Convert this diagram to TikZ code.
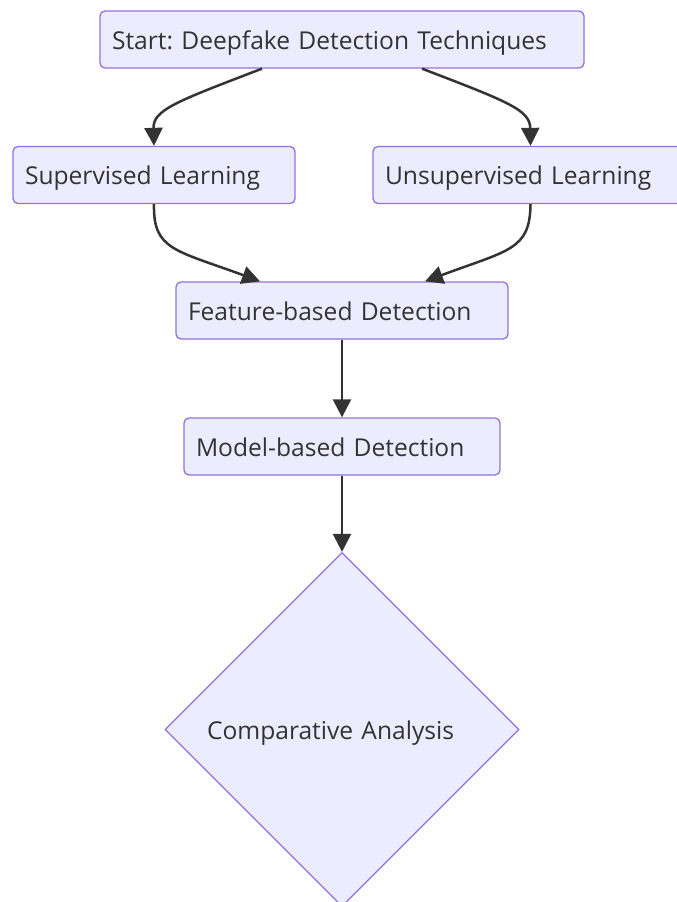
\documentclass[tikz,border=0pt]{standalone}
\usepackage{fontspec}
\setmainfont{Open Sans}
\usetikzlibrary{arrows.meta,shapes.geometric}
\definecolor{boxfill}{HTML}{ECECFF}
\definecolor{boxline}{HTML}{9370DB}
\definecolor{ink}{HTML}{333333}
\frenchspacing
\begin{document}
\begin{tikzpicture}[x=1pt,y=-1pt,
  box/.style={draw=boxline,fill=boxfill,line width=1.3pt,rounded corners=5pt,
    inner xsep=12pt,inner ysep=0pt,minimum height=57pt,align=left,
    text height=25.6pt,text depth=6pt,
    text=ink,font=\fontsize{24.6}{28}\selectfont,anchor=center},
  dia/.style={draw=boxline,fill=boxfill,line width=1.3pt,shape=diamond,
    minimum width=354pt,minimum height=354pt,inner sep=0pt,
    text height=26.6pt,text depth=6pt,
    text width=270pt,align=left,text=ink,font=\fontsize{24.6}{28}\selectfont},
  link/.style={draw=ink,line width=2.5pt,-{Triangle[length=18pt,width=18pt]}}]
\useasboundingbox (0,0) rectangle (677,902);
\node[box,text width=460pt] (start) at (342,39.5) {Start: Deepfake Detection Techniques};
\node[box,text width=258pt] (sup) at (154,175) {Supervised Learning};
\node[box,text width=291pt] (uns) at (530.5,175) {Unsupervised Learning};
\node[box,text width=308pt] (feat) at (342,310.5) {Feature-based Detection};
\node[box,text width=292pt] (model) at (342,446.5) {Model-based Detection};
\node[dia] (comp) at (342,729.5) {Comparative Analysis};
\draw[link] (start.south -| 262,0) .. controls (175,102) and (153,110) .. (sup.north);
\draw[link] (start.south -| 422,0) .. controls (509,102) and (530,110) .. (uns.north);
\draw[link] (sup.south) .. controls (153,250) and (175,250) .. (feat.north -| 260,0);
\draw[link] (uns.south) .. controls (530,250) and (509,250) .. (feat.north -| 425,0);
\draw[link] (feat.south) -- (model.north);
\draw[link] (model.south) -- (comp.north);
\end{tikzpicture}
\end{document}
